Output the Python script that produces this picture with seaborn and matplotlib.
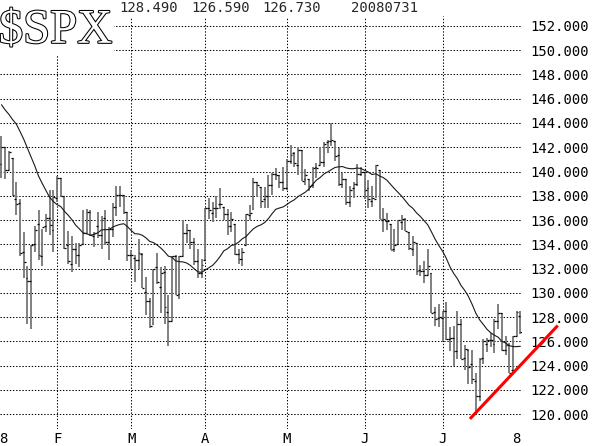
import numpy as np
import pandas as pd
import matplotlib
matplotlib.use("Agg")
import matplotlib.pyplot as plt
import matplotlib.patheffects as pe
import seaborn as sns

# trading days shown on the chart (Jan 10 - Jul 31, 2008)
dates = pd.bdate_range("2008-01-10", "2008-07-31")
holidays = ["2008-01-21", "2008-02-18", "2008-03-21", "2008-05-26", "2008-07-04"]
dates = dates.drop(pd.to_datetime(holidays))

# $SPX daily bars (scaled /10 as on the chart)
opens = [
    140.6, 142.0, 140.1, 141.1, 137.7, 137.4, 133.4, 131.2, 131.0, 134.0, 135.7, 133.0, 135.5, 136.2, 135.2,
    137.8, 139.5, 138.0, 133.9, 132.4, 133.6, 133.1, 134.0, 134.9, 136.7, 134.7, 135.5, 134.8, 136.2, 134.2,
    135.3, 137.1, 138.1, 138.1, 136.7,
    133.1, 132.9, 132.7, 133.2, 130.1, 129.3, 127.4, 132.1, 130.5, 131.7, 128.4, 127.7, 133.0, 129.9, 133.0,
    134.9, 135.2, 134.2, 132.6, 131.6,
    132.7, 137.0, 136.6, 137.0, 137.3, 137.1, 136.5, 135.5, 135.7, 133.2, 132.8, 133.9, 136.4, 136.9, 139.1,
    138.7, 137.7, 138.0, 138.9, 139.8, 139.7, 139.1,
    138.6, 140.9, 141.5, 140.5, 141.8, 139.4, 139.4, 138.9, 140.4, 140.5, 140.8, 142.4, 142.5, 142.5, 141.4,
    139.0, 139.4, 137.5, 138.6, 139.0, 139.8,
    140.0, 138.6, 137.6, 137.7, 140.1, 136.0, 135.9, 135.7, 133.6, 134.0, 135.8, 136.1, 135.0, 133.6, 134.1,
    131.9, 131.8, 131.5, 131.6, 128.4, 127.9,
    127.9, 128.5, 126.2, 126.3, 125.2, 127.4, 124.6, 125.3, 124.1, 122.7, 121.5, 124.6, 125.8, 126.1, 125.8,
    127.7, 128.3, 125.3, 125.7, 123.6, 126.4, 128.1,
]
highs = [
    142.9, 142.0, 141.7, 141.1, 139.1, 137.7, 135.0, 132.2, 133.9, 135.5, 136.8, 135.3, 136.5, 138.5, 138.5,
    139.6, 139.5, 138.0, 135.1, 134.7, 134.1, 134.1, 136.8, 136.9, 136.8, 135.0, 136.7, 136.3, 136.8, 135.4,
    137.4, 138.8, 138.8, 138.1, 136.7,
    133.5, 133.1, 134.4, 133.3, 131.3, 129.6, 132.0, 133.3, 132.1, 132.2, 129.8, 133.0, 133.1, 133.0, 136.0,
    135.7, 135.2, 134.5, 133.6, 132.8,
    137.0, 137.8, 137.5, 138.0, 138.6, 137.1, 136.9, 136.7, 135.7, 133.6, 133.7, 136.5, 137.2, 139.5, 139.1,
    138.7, 138.7, 139.7, 139.9, 140.3, 139.7, 140.4,
    141.0, 142.2, 141.6, 142.0, 141.8, 140.2, 139.4, 140.4, 140.7, 142.0, 142.4, 142.6, 144.0, 142.5, 141.9,
    139.9, 139.4, 138.8, 139.1, 140.6, 140.4,
    140.0, 139.3, 138.8, 140.5, 140.1, 137.0, 136.6, 135.7, 135.3, 136.0, 136.4, 136.2, 135.0, 134.7, 134.1,
    132.3, 132.6, 133.6, 131.6, 128.8, 129.1,
    128.5, 129.2, 127.2, 127.3, 128.5, 127.8, 125.7, 125.4, 125.3, 123.4, 124.6, 126.2, 126.3, 126.7, 127.8,
    129.1, 128.3, 126.4, 125.9, 126.4, 128.5, 128.49,
]
lows = [
    139.5, 139.4, 140.1, 138.0, 136.4, 133.0, 131.2, 127.4, 127.0, 133.4, 132.7, 132.2, 135.0, 134.8, 133.4,
    137.5, 137.9, 133.6, 132.4, 131.7, 132.4, 132.1, 133.9, 134.9, 134.7, 133.8, 134.5, 133.6, 133.9, 132.7,
    134.6, 136.3, 137.1, 136.5, 132.6,
    132.0, 130.9, 132.0, 130.4, 128.2, 127.1, 127.4, 130.7, 128.3, 127.4, 125.6, 127.7, 129.8, 129.5, 133.0,
    134.1, 133.6, 132.3, 131.2, 131.2,
    132.7, 136.1, 135.8, 136.2, 136.9, 136.0, 134.8, 135.0, 133.1, 132.4, 132.2, 133.9, 136.0, 136.9, 137.9,
    137.0, 137.0, 137.0, 138.1, 139.3, 138.6, 138.4,
    138.5, 140.6, 140.4, 139.7, 139.2, 138.9, 138.4, 138.6, 139.5, 140.5, 140.4, 141.5, 142.1, 140.9, 138.8,
    138.6, 137.2, 137.1, 137.8, 138.8, 139.6,
    137.7, 137.0, 137.1, 137.8, 136.1, 135.0, 135.2, 133.5, 133.4, 134.0, 135.2, 135.1, 133.5, 133.0, 131.5,
    131.4, 130.8, 131.5, 128.3, 127.3, 127.2,
    126.0, 126.1, 125.2, 124.0, 124.5, 124.5, 123.6, 122.5, 122.5, 120.0, 121.1, 124.1, 125.1, 125.5, 125.0,
    127.0, 125.2, 124.9, 123.4, 123.4, 126.4, 126.59,
]
closes = [
    142.0, 140.1, 141.6, 138.1, 137.3, 133.3, 132.5, 131.0, 133.9, 135.2, 133.1, 135.4, 136.2, 135.6, 137.9,
    139.5, 138.0, 133.7, 132.6, 133.6, 133.1, 133.9, 134.9, 136.7, 134.8, 134.9, 134.8, 136.0, 134.2, 135.3,
    137.1, 138.1, 138.1, 136.7, 133.1,
    133.1, 132.7, 133.3, 130.4, 129.3, 127.3, 132.0, 130.9, 131.6, 128.8, 127.7, 133.0, 129.8, 133.0, 134.9,
    135.2, 134.2, 132.6, 131.6, 132.3,
    137.0, 136.8, 137.0, 137.0, 137.3, 136.5, 135.5, 136.1, 133.2, 132.8, 133.4, 136.5, 136.6, 139.1, 138.9,
    137.6, 138.0, 138.9, 139.8, 139.7, 139.1, 138.6,
    140.9, 141.4, 140.7, 141.8, 139.2, 139.7, 138.8, 140.3, 140.3, 140.8, 142.3, 142.5, 142.6, 141.3, 139.0,
    139.4, 137.5, 138.5, 139.0, 139.8, 140.0,
    138.5, 137.7, 137.8, 140.5, 136.1, 136.1, 135.9, 133.5, 133.9, 136.0, 136.1, 135.1, 133.7, 134.2, 131.8,
    131.8, 131.5, 132.2, 128.3, 127.8, 128.0,
    128.5, 126.2, 126.3, 125.2, 127.4, 124.5, 125.4, 123.9, 122.9, 121.5, 124.5, 126.0, 126.1, 126.1, 127.7,
    128.3, 125.3, 125.7, 123.4, 126.4, 128.4, 126.73,
]
# closes before Jan 10 needed for the 20-day moving average
prior_closes = [148.7, 148.8, 146.8, 144.6, 145.5, 145.3, 146.0, 148.5, 149.7, 149.8,
                147.6, 147.9, 146.8, 144.7, 144.7, 141.2, 141.6, 139.0, 140.9]
ma_window = 20

# hand drawn support line (day index, price)
trend_x = [126.4, 150.1]
trend_y = [119.6, 127.3]

df = pd.DataFrame({"date": dates, "open": opens, "high": highs, "low": lows, "close": closes})
df["idx"] = np.arange(len(df))
ma = pd.Series(prior_closes + closes).rolling(ma_window).mean().iloc[len(prior_closes):]
df["ma"] = ma.values

sns.set_style("white")
plt.rcParams["font.family"] = ["DejaVu Sans Mono"]

fig = plt.figure(figsize=(5.95, 4.46), dpi=100)
ax = fig.add_axes([0.0, 0.039, 0.877, 0.9245])

ylo, yhi = 118.8, 152.8
ax.set_ylim(ylo, yhi)
ax.set_xlim(-0.4, len(df) - 0.6)

# grid
grid_kw = dict(color="black", lw=0.75, ls=(0, (1.3, 1.7)), zorder=0)
yticks = np.arange(120, 153, 2)
for v in yticks:
    ax.axhline(v, **grid_kw)
month_starts = [i for i in range(1, len(df)) if df["date"][i].month != df["date"][i - 1].month]
for i in month_starts:
    ax.axvline(i, **grid_kw)

# OHLC bars
ax.vlines(df["idx"], df["low"], df["high"], color="#767676", lw=1.3, zorder=2)
ax.hlines(df["open"], df["idx"] - 0.5, df["idx"], color="black", lw=0.9, zorder=3)
ax.hlines(df["close"], df["idx"], df["idx"] + 0.5, color="black", lw=0.9, zorder=3)

# moving average
sns.lineplot(data=df, x="idx", y="ma", color="#1a1a1a", lw=0.8, ax=ax, zorder=4)

# trend line
ax.plot(trend_x, trend_y, color="#ff0000", lw=2.2, clip_on=False, zorder=6,
        solid_capstyle="butt")

# axes / ticks
sns.despine(ax=ax, left=True, right=True, top=True, bottom=True)
ax.yaxis.tick_right()
ax.set_yticks(yticks, [f"{v:.3f}" for v in yticks])
xt = [0.4] + month_starts + [138.8]
xl = ["8"] + [df["date"][i].strftime("%b")[0] for i in month_starts] + ["8"]
ax.set_xticks(xt, xl)
ax.tick_params(axis="both", length=0, labelsize=10, colors="black")
ax.tick_params(axis="y", pad=6)
ax.tick_params(axis="x", pad=2.5)
ax.set_xlabel("")
ax.set_ylabel("")

# header
box = dict(facecolor="white", edgecolor="none", pad=1.5)
fig.text(-0.002, 0.904, "$SPX", fontsize=35, family="Liberation Serif", color="white",
         va="baseline", ha="left", bbox=box, zorder=10,
         path_effects=[pe.withStroke(linewidth=1.5, foreground="black")])
last = df.iloc[-1]
header_vals = [f"{last['high']:.3f}", f"{last['low']:.3f}", f"{last['close']:.3f}",
               last["date"].strftime("%Y%m%d")]
header_x = [119, 191, 262, 351]
for hx, s in zip(header_x, header_vals):
    fig.text(hx / 595, 0.982, s, fontsize=10, va="center", ha="left", bbox=box, zorder=10)

fig.savefig("out.png", dpi=100, facecolor="white")
